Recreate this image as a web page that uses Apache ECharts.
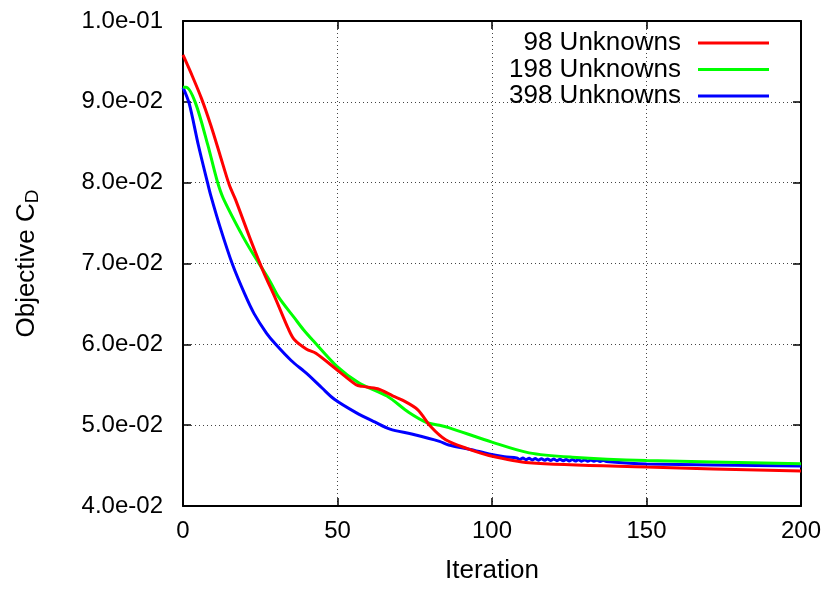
<!DOCTYPE html>
<html>
<head>
<meta charset="utf-8">
<script src="https://cdn.jsdelivr.net/npm/echarts@6/dist/echarts.min.js"></script>
<style>
  html, body { margin: 0; padding: 0; background: #fff; }
  #chart { width: 829px; height: 589px; }
</style>
</head>
<body>
<div id="chart"></div>
<script>
// Convergence history of the drag objective for three discretisations
const seriesNames = ['98 Unknowns', '198 Unknowns', '398 Unknowns'];
const seriesColors = ['#ff0000', '#00ff00', '#0000ff'];

const redIter = [0, 3, 6, 9, 12, 15, 17, 22, 26, 30, 34, 36, 40, 43, 50, 56, 58, 63, 68, 71, 76, 80, 85, 92, 99, 112, 150, 200];
const redCd = [0.0958, 0.0932, 0.0904, 0.0871, 0.0834, 0.0797, 0.0779, 0.0728, 0.0690, 0.0656, 0.0620, 0.0606, 0.0594, 0.0589, 0.0568, 0.0550, 0.0548, 0.0545, 0.0536, 0.0531, 0.0519, 0.0499, 0.0482, 0.0471, 0.04625, 0.04535, 0.04482, 0.04432];

const greenIter = [0, 1, 4, 8, 11, 13, 19, 22, 28, 31, 36, 39, 42, 50, 57, 66, 73, 79, 83, 86, 100, 112, 126, 150, 200];
const greenCd = [0.0918, 0.0918, 0.0899, 0.0847, 0.0803, 0.0781, 0.0736, 0.0716, 0.0679, 0.0658, 0.0633, 0.0618, 0.0605, 0.0572, 0.0552, 0.0536, 0.0516, 0.0503, 0.0500, 0.0497, 0.0479, 0.04657, 0.04604, 0.04563, 0.04522];

const blueIter = [0, 2, 5, 8, 9, 12, 16, 20, 23, 27, 30, 35, 40, 45, 49, 56, 62, 67, 74, 83, 86, 93, 99,
  104, 108, 109, 110, 111, 112, 113, 114, 115, 116, 117, 118, 119, 120, 121, 122, 123, 124, 125, 126, 127, 128, 129, 130, 131, 132, 133, 134, 135, 136, 137, 150, 200];
const blueCd = [0.0918, 0.0898, 0.0846, 0.0799, 0.0784, 0.0745, 0.0699, 0.0662, 0.0638, 0.0614, 0.0600, 0.0580, 0.0564, 0.0546, 0.0532, 0.05155, 0.0504, 0.04951, 0.0489, 0.0480, 0.04755, 0.0470, 0.04645,
  0.0461, 0.04595, 0.04576, 0.04593, 0.04573, 0.04590, 0.04570, 0.04587, 0.04567, 0.04584, 0.04565, 0.04582, 0.04563, 0.04580, 0.04561, 0.04578, 0.04559, 0.04576, 0.04558, 0.04574, 0.04556, 0.04572, 0.04555, 0.04570, 0.04554, 0.04568, 0.04553, 0.04566, 0.04552, 0.04564, 0.04551, 0.0452, 0.04494];

const xTicks = [0, 50, 100, 150, 200];
const yTicks = [0.04, 0.05, 0.06, 0.07, 0.08, 0.09, 0.10];

const pairs = (xs, ys) => xs.map((x, i) => [x, ys[i]]);
const seriesData = [pairs(redIter, redCd), pairs(greenIter, greenCd), pairs(blueIter, blueCd)];

const FONT = 'Liberation Sans, Arial, sans-serif';

function sci(v) {
  const s = Number(v).toExponential(1);
  return s.replace(/e([+-])(\d+)$/, (m, sign, d) => 'e' + sign + (d.length < 2 ? '0' + d : d));
}

const grid = { left: 183, right: 28, top: 21, bottom: 78 };
const xMin = xTicks[0], xMax = xTicks[xTicks.length - 1], xStep = xTicks[1] - xTicks[0];
const yMin = yTicks[0], yMax = yTicks[yTicks.length - 1], yStep = 0.01;

const gridLine = { show: true, lineStyle: { color: '#444', width: 1, type: [1, 3] } };
const frameLine = { show: true, onZero: false, lineStyle: { color: '#000', width: 2 } };
const innerTick = { show: true, inside: true, length: 8, lineStyle: { color: '#000', width: 1.5 } };

const chart = echarts.init(document.getElementById('chart'), null, { renderer: 'canvas' });

chart.setOption({
  animation: false,
  backgroundColor: '#fff',
  grid: grid,
  xAxis: [
    {
      type: 'value', min: xMin, max: xMax, interval: xStep, position: 'bottom',
      axisLine: frameLine, axisTick: innerTick, splitLine: gridLine,
      axisLabel: { color: '#000', fontSize: 24, fontFamily: FONT, margin: 13 },
      name: 'Iteration', nameLocation: 'middle', nameGap: 52,
      nameTextStyle: { color: '#000', fontSize: 26, fontFamily: FONT }
    },
    {
      type: 'value', min: xMin, max: xMax, interval: xStep, position: 'top',
      axisLine: frameLine, axisTick: innerTick, splitLine: { show: false },
      axisLabel: { show: false }
    }
  ],
  yAxis: [
    {
      type: 'value', min: yMin, max: yMax, interval: yStep, position: 'left',
      axisLine: frameLine, axisTick: innerTick, splitLine: gridLine,
      axisLabel: { color: '#000', fontSize: 24, fontFamily: FONT, margin: 20, formatter: sci },
      name: 'Objective C{sub|D}', nameLocation: 'middle', nameGap: 141, nameRotate: 90,
      nameTextStyle: {
        color: '#000', fontSize: 26, fontFamily: FONT,
        rich: { sub: { fontSize: 19, fontFamily: FONT, color: '#000', verticalAlign: 'bottom', padding: [11, 0, 0, 0] } }
      }
    },
    {
      type: 'value', min: yMin, max: yMax, interval: yStep, position: 'right',
      axisLine: frameLine, axisTick: innerTick, splitLine: { show: false },
      axisLabel: { show: false }
    }
  ],
  legend: seriesNames.map((name, i) => ({
    data: [name],
    orient: 'vertical',
    right: 60,
    top: 30 + i * 26.5,
    align: 'right',
    icon: 'rect',
    itemWidth: 71,
    itemHeight: 3,
    itemGap: 0,
    padding: 0,
    selectedMode: false,
    textStyle: { color: '#000', fontSize: 26, fontFamily: FONT, lineHeight: 24, padding: [0, 12, 0, 0] }
  })),
  series: seriesNames.map((name, i) => ({
    name: name,
    type: 'line',
    xAxisIndex: 0,
    yAxisIndex: 0,
    data: seriesData[i],
    smooth: 0.3,
    showSymbol: false,
    symbol: 'none',
    color: seriesColors[i],
    lineStyle: { color: seriesColors[i], width: 3 },
    z: 10 - i
  }))
});
</script>
</body>
</html>
